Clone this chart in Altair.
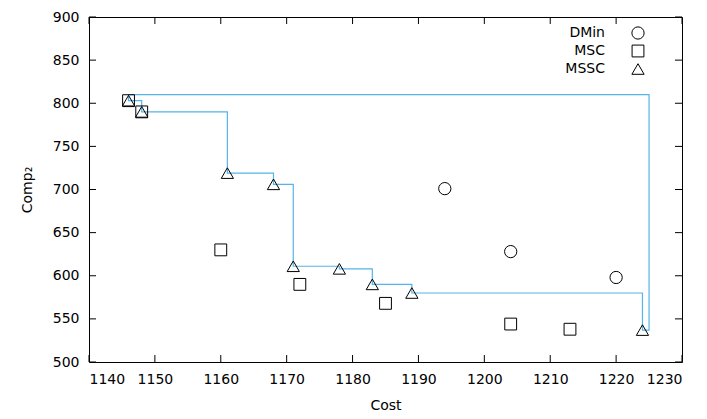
import altair as alt
import pandas as pd

# ---- data ----
dmin_cost = [1194, 1204, 1220]
dmin_comp = [701, 628, 598]

msc_cost = [1146, 1148, 1160, 1172, 1185, 1204, 1213]
msc_comp = [803, 790, 630, 590, 568, 544, 538]

mssc_cost = [1146, 1148, 1161, 1168, 1171, 1178, 1183, 1189, 1224]
mssc_comp = [803, 790, 719, 706, 611, 608, 590, 580, 537]

ref_cost = 1225
ref_comp = 810

x_ticks = [1140, 1150, 1160, 1170, 1180, 1190, 1200, 1210, 1220, 1230]
y_ticks = [500, 550, 600, 650, 700, 750, 800, 850, 900]

legend_labels = ["DMin", "MSC", "MSSC"]
legend_shapes = ["circle", "square", "triangle-up"]

FONT = "DejaVu Sans"
FS = 14
W, H = 593, 345
LINE_COLOR = "#56b4e9"

# ---- tables ----
dmin_df = pd.DataFrame({"Cost": dmin_cost, "Comp": dmin_comp})
msc_df = pd.DataFrame({"Cost": msc_cost, "Comp": msc_comp})
mssc_df = pd.DataFrame({"Cost": mssc_cost, "Comp": mssc_comp})

path_cost = [mssc_cost[0]] + mssc_cost + [ref_cost, ref_cost, mssc_cost[0]]
path_comp = [ref_comp] + mssc_comp + [mssc_comp[-1], ref_comp, ref_comp]
path_df = pd.DataFrame({"Cost": path_cost, "Comp": path_comp,
                        "ord": list(range(len(path_cost)))})

xt_df = pd.DataFrame({"Cost": x_ticks})
yt_df = pd.DataFrame({"Comp": y_ticks})

xscale = alt.Scale(domain=[1140, 1230], nice=False, zero=False)
yscale = alt.Scale(domain=[500, 900], nice=False, zero=False)

xaxis = alt.Axis(values=x_ticks, ticks=False, domain=False, grid=False,
                 labelFont=FONT, labelFontSize=FS, labelColor="black",
                 labelPadding=10, title="Cost", titleFont=FONT,
                 titleFontSize=FS, titleFontWeight="normal",
                 titleColor="black", titlePadding=12, format="d")
yaxis = alt.Axis(values=y_ticks, ticks=False, domain=False, grid=False,
                 labelFont=FONT, labelFontSize=FS, labelColor="black",
                 labelPadding=10, title="Comp₂", titleFont=FONT,
                 titleFontSize=FS, titleFontWeight="normal",
                 titleColor="black", titlePadding=18, format="d")

X = alt.X("Cost:Q", scale=xscale, axis=xaxis)
Y = alt.Y("Comp:Q", scale=yscale, axis=yaxis)

line = alt.Chart(path_df).mark_line(
    interpolate="step-after", color=LINE_COLOR, strokeWidth=1.2
).encode(x=X, y=Y, order="ord:Q")

def pts(df, shape, size):
    return alt.Chart(df).mark_point(
        shape=shape, filled=False, color="black", size=size,
        strokeWidth=1, opacity=1
    ).encode(x=X, y=Y)

p_dmin = pts(dmin_df, "circle", 150)
p_msc = pts(msc_df, "square", 140)
p_mssc = pts(mssc_df, "triangle-up", 150)

# inward ticks on all four sides
TL = 7
t_bottom = alt.Chart(xt_df).mark_rule(color="black", strokeWidth=1).encode(
    x=X, y=alt.value(H), y2=alt.value(H - TL))
t_top = alt.Chart(xt_df).mark_rule(color="black", strokeWidth=1).encode(
    x=X, y=alt.value(0), y2=alt.value(TL))
t_left = alt.Chart(yt_df).mark_rule(color="black", strokeWidth=1).encode(
    y=Y, x=alt.value(0), x2=alt.value(TL))
t_right = alt.Chart(yt_df).mark_rule(color="black", strokeWidth=1).encode(
    y=Y, x=alt.value(W), x2=alt.value(W - TL))

# legend (inside, top right)
leg_layers = []
for i, (lab, shp) in enumerate(zip(legend_labels, legend_shapes)):
    ly = 16 + 18 * i
    d = pd.DataFrame({"label": [lab]})
    leg_layers.append(alt.Chart(d).mark_text(
        align="right", baseline="middle", font=FONT, fontSize=FS, color="black"
    ).encode(text="label:N", x=alt.value(516), y=alt.value(ly)))
    leg_layers.append(alt.Chart(d).mark_point(
        shape=shp, filled=False, color="black", strokeWidth=1, opacity=1,
        size=150 if shp != "square" else 140
    ).encode(x=alt.value(549), y=alt.value(ly)))

chart = alt.layer(
    line, p_dmin, p_msc, p_mssc, t_bottom, t_top, t_left, t_right, *leg_layers
).properties(
    width=W, height=H,
    autosize=alt.AutoSizeParams(type="none"),
    padding={"left": 81, "top": 9, "right": 17, "bottom": 49},
    background="white",
).configure_view(stroke="black", strokeWidth=1)

chart.save("out.html", embed_options={"renderer": "svg", "actions": False})
